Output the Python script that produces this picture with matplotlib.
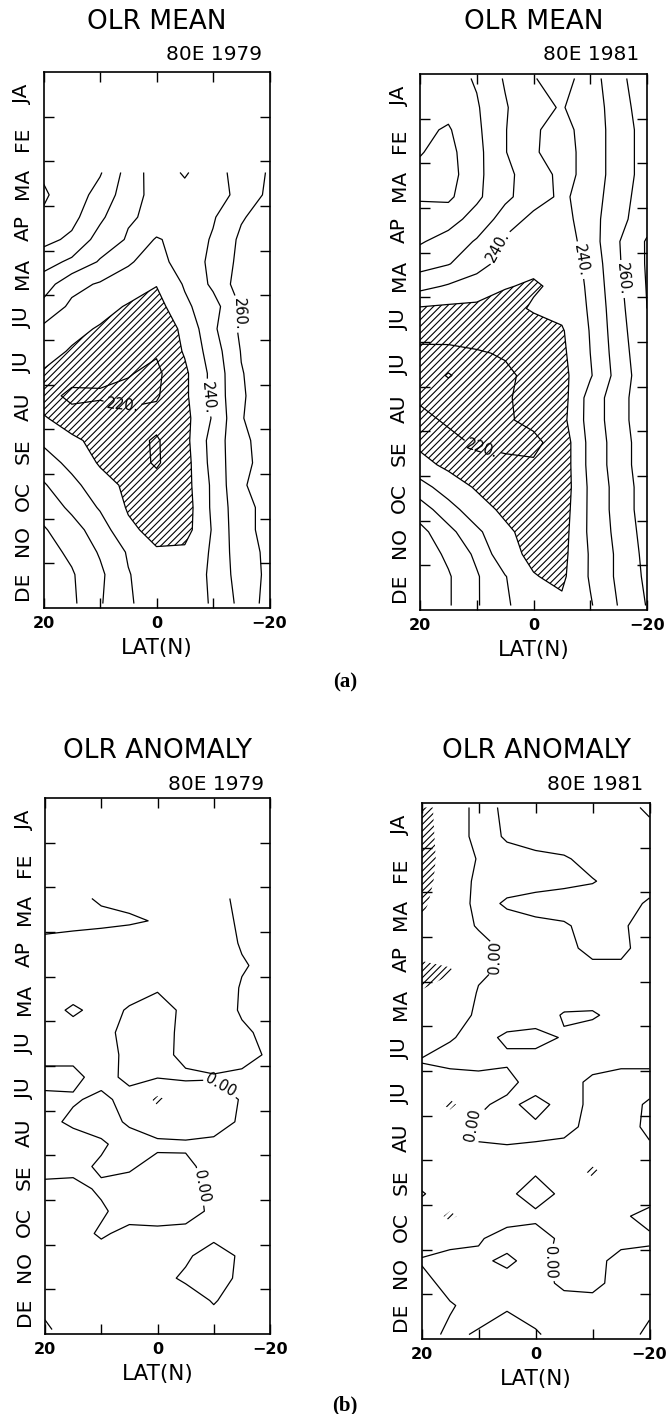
import numpy as np
import matplotlib
matplotlib.use("Agg")
import matplotlib.pyplot as plt

nan = np.nan

# ---------------- data ----------------
lat = [20, 15, 10, 5, 0, -5, -10, -15, -20]
time_mid = [0.1, 0.75, 1.25, 1.75, 2.25, 2.75, 3.25, 3.75, 4.25, 4.75, 5.25, 5.75,
            6.25, 6.75, 7.25, 7.75, 8.25, 8.75, 9.25, 9.75, 10.25, 10.75, 11.25, 11.9]
month_labels = ["JA", "FE", "MA", "AP", "MA", "JU", "JU", "AU", "SE", "OC", "NO", "DE"]
lat_ticks = [20, 10, 0, -10, -20]
lat_tick_labels = ["20", "", "0", "", "\u221220"]

mean_levels = [200, 210, 220, 230, 240, 250, 260, 270, 280, 290, 300]
mean_label_levels = [220, 240, 260]
mean_hatch_below = 230
anom_levels = [0]
anom_label_levels = [0]
anom_hatch_below = -20

mean_1979 = [
    [nan] * 9, [nan] * 9, [nan] * 9, [nan] * 9,
    [279, 279, 271, 256, 245, 239, 246, 254, 261],
    [281, 276, 266, 255, 246, 243, 244, 254, 262],
    [279, 273, 262, 251, 248, 243, 249, 259, 265],
    [273, 268, 256, 249, 239, 244, 251, 262, 268],
    [264, 258, 249, 241, 236, 245, 252, 263, 268],
    [255, 243, 239, 236, 230.5, 241, 252, 265, 268],
    [247, 238, 234, 229, 226, 238, 246, 261, 266],
    [238, 233, 229, 227, 224, 232, 248, 262, 266],
    [234, 229, 227, 224, 221, 231, 245, 260.5, 265],
    [229, 225, 222, 220.5, 218, 228, 243, 259.5, 265],
    [225, 217, 219, 218, 219, 228, 243, 259, 265],
    [231, 225, 224, 222, 223, 227, 241, 259.5, 265],
    [238, 232, 227, 223, 219, 227, 244, 258, 264],
    [245, 237, 229, 224, 219, 226, 243.5, 258, 263],
    [251, 243, 234, 228, 223, 226, 242, 259, 264],
    [256, 248, 239, 229, 225, 225, 242, 257, 263],
    [261, 254, 245, 232, 227, 226, 241, 257, 263],
    [264, 258, 249, 239, 231, 232, 241.5, 256, 262],
    [266, 261, 252, 240.5, 235, 235, 241.5, 255, 262],
    [267, 262, 251, 241, 236, 235, 241, 253, 264],
]

mean_1981 = [
    [266, 264, 259, 249, 240.5, 236, 245, 258, 265],
    [268, 267, 261, 251, 242, 239.5, 244, 256, 265],
    [268, 271, 262, 250.5, 241, 237, 244, 255, 264],
    [269.5, 273, 263, 250.5, 241, 236, 244, 255, 264],
    [272, 274, 263, 251, 248, 236, 244, 255, 264],
    [271, 272, 262, 252, 245, 238, 245, 256, 265],
    [266, 264, 256, 246, 237, 236, 246, 257, 266],
    [261, 256, 249, 238, 235, 234, 245, 259.5, 271],
    [254, 250.5, 244, 236, 232, 233, 243, 259, 271],
    [243, 239, 235, 230.5, 229, 232, 242, 258, 270.5],
    [229, 228, 228, 227, 231, 233, 241, 257, 270],
    [223, 224, 225, 226, 226, 229, 240.5, 256, 269],
    [218, 217.5, 219, 221, 224, 228, 240, 255, 268],
    [218, 209, 217, 218, 223, 227, 239, 254, 267],
    [219, 218, 217, 219, 223, 226, 244, 256, 267],
    [222, 219, 218, 219, 222, 227, 244, 256, 267],
    [228, 222, 219, 218, 218, 224, 243, 255, 266],
    [233, 228, 224, 222, 221, 224, 243, 255, 266],
    [244, 235, 229, 225, 222, 224, 242, 254, 265],
    [255, 244, 234, 228, 224, 225, 242, 254, 265],
    [263, 253, 242, 232, 226, 226, 242, 253, 264],
    [266, 258, 248, 233, 228, 227, 241, 252, 263],
    [268, 261, 251, 240.5, 230.5, 228, 241, 252, 262],
    [268, 261, 251, 241, 236, 232, 239, 250.5, 260.5],
]

anom_1979 = [
    [nan] * 9, [nan] * 9, [nan] * 9, [nan] * 9,
    [8, 4, -2, -4, -5, -6, -4, 3, 6],
    [6, 5, 4, 2, -1, -7, -5, 2, 5],
    [-4, -6, -8, -9, -10, -8, -6, 1, 4],
    [-6, -7, -9, -10, -9, -8, -7, -1, 3],
    [-7, -6, -6, -4, -1, -5, -8, 1, 4],
    [-5, 2, -4, 1, 4, -2, -8, 1.5, 4],
    [-6, -5, -3, 3, 3, -2, -6, -2, 3],
    [-3, -2, -5, 3, 4, -3, -6, -5, 2],
    [3, 2, -3, 2, 1, 2, 1, 3, 4],
    [-2, -1, 2, -3, -24, -10, -7, 1, 3],
    [-3, 2, 3, -1, -9, -9, -6, 2, 3],
    [-6, -5, -1, 3, 3, 2, 3, 4, 3],
    [-4, -2, 1, 2, -5, -3, 5, 4, 3],
    [3, 2, -1, -6, -7, -4, 3, 4, 3],
    [4, 3, 1, -3, -6, -4, 2, 4, 3],
    [4, 3, -1, 2, 3, 3, 2, 4, 3],
    [4, 3, 3, 2, 3, 1, -3, 1, 3],
    [3, 3, 2, 2, 2, -1, -4, 2, 3],
    [2, 3, 2, 3, 3, 3, -0.5, 3, 3],
    [-1, 3, 3, 3, 2, 2, 3, 3, 3],
]

anom_1981 = [
    [-28, -8, 4, -2, -4, -4, -3, -2, 1],
    [-30, -8, 4, -1, -5, -5, -4, -3, -2],
    [-30, -10, 1, 3, 3, 1, -3, -4, -3],
    [-28, -9, 3, 3, 3, 2, 0.5, -3, -3],
    [-24, -7, 3, -1, -3, -4, -4, -3, 1],
    [-18, -6, 1, 3, 2, 1, -3, -1, 3],
    [-12, -8, -4, 2, 3, 2, -2, -1, 2],
    [-26, -22, -2, 2, 3, 2, 2, 1, 2],
    [-19, -12, 1, 2, 3, 3, 2, 2, 2],
    [-10, -6, 2, 3, 3, -0.5, -0.5, 1.5, 2],
    [-6, -0.5, 2, -1, -2, 0.5, 2, 2, 2],
    [0.5, 2, 3, 1, 2, 2, 2, 2, 2],
    [-3, -3, -3, -2, 3, 2, -1, -3, -3],
    [-4, -25, -1, 1.5, -2, 2, -1, -3, 1],
    [-4, -3, 1, 2, 1, 2, -2, -3, 1.5],
    [-4, -4, -0.5, -0.5, -0.5, -2, -3, -3, -1],
    [-3, -4, -3, -2, -0.5, -3, -25, -4, -3],
    [0.5, -3, -3, -1, 2, -1, -4, -4, -3],
    [-3, -25, -3, -2, -1, -2, -3, -1, 2],
    [-3, -2, -0.5, 2, 2, -1, -3, -2, -1],
    [0.5, 2, 1, -1, 2, -2, -2, 2, 2],
    [-2, 2, 2, 2, 2, -1, -1.5, 2, 2],
    [-3, -0.5, 2, 0.5, 2, 2, 2, 2, 1],
    [-2, 1, -0.5, -2, -0.5, 2, 2, 2, -1],
]

# label anchor points (lat, month) for inline contour labels
mean_1979_label_pts = [(6.0, 7.45), (-8.6, 7.3), (-13.6, 5.4)]
mean_1981_label_pts = [(6.5, 3.85), (-7.0, 4.2), (-14.8, 4.6), (9.0, 8.35)]
anom_1979_label_pts = [(-9.5, 6.7), (-4.5, 8.8)]
anom_1981_label_pts = [(7.0, 3.45), (11.0, 7.2), (-2.0, 10.3)]

# ---------------- style ----------------
plt.rcParams["font.family"] = ["DejaVu Sans"]
plt.rcParams["hatch.linewidth"] = 0.8
plt.rcParams["hatch.color"] = "black"
plt.rcParams["axes.linewidth"] = 1.2

W, H = 672, 1414
fig = plt.figure(figsize=(W / 100, H / 100), dpi=100)
fig.patch.set_facecolor("white")


def px_axes(left, top, width, height):
    return fig.add_axes([left / W, 1 - (top + height) / H, width / W, height / H])


def draw_panel(rect, data, levels, label_levels, hatch_below, fmt, label_pts,
               title, subtitle, title_xy, sub_xy):
    ax = px_axes(*rect)
    Z = np.ma.masked_invalid(np.array(data, dtype=float))
    X, Y = np.meshgrid(np.array(lat, float), np.array(time_mid, float))
    ax.contourf(X, Y, Z, levels=[-1e4, hatch_below], colors="none",
                hatches=["/////"])
    other = [v for v in levels if v not in label_levels]
    if other:
        ax.contour(X, Y, Z, levels=other, colors="k", linewidths=0.9)
    cs_lab = ax.contour(X, Y, Z, levels=label_levels, colors="k", linewidths=0.9)
    ax.clabel(cs_lab, manual=label_pts, fmt=fmt, inline=True, fontsize=10.5,
              inline_spacing=3)
    ax.set_xlim(20, -20)
    ax.set_ylim(12, 0)
    ax.set_xticks(lat_ticks)
    ax.set_xticklabels(lat_tick_labels, fontsize=11.5, fontweight="bold")
    ax.set_yticks(range(1, 12))
    ax.set_yticklabels([])
    ax.set_yticks([m + 0.5 for m in range(12)], minor=True)
    ax.set_yticklabels(month_labels, minor=True, rotation=90, va="center",
                       fontsize=14.5)
    ax.tick_params(axis="y", which="major", direction="in", length=7,
                   left=True, right=True, width=1.0)
    ax.tick_params(axis="y", which="minor", length=0, pad=8)
    ax.tick_params(axis="x", which="major", direction="in", length=7,
                   top=True, bottom=True, width=1.0, pad=6)
    ax.text(0.5, -40 / rect[3], "LAT(N)", transform=ax.transAxes,
            ha="center", va="center", fontsize=15.5)
    fig.text(title_xy[0] / W, 1 - title_xy[1] / H, title, ha="center",
             va="center", fontsize=19)
    fig.text(sub_xy[0] / W, 1 - sub_xy[1] / H, subtitle, ha="right",
             va="center", fontsize=14.5)
    return ax


mean_fmt = lambda v: f"{v:.0f}."
anom_fmt = lambda v: "0.00"

draw_panel((43.5, 72, 226, 536), mean_1979, mean_levels, mean_label_levels,
           mean_hatch_below, mean_fmt, mean_1979_label_pts,
           "OLR MEAN", "80E 1979", (156.5, 22), (262, 54))
draw_panel((420, 74, 227, 536), mean_1981, mean_levels, mean_label_levels,
           mean_hatch_below, mean_fmt, mean_1981_label_pts,
           "OLR MEAN", "80E 1981", (533.5, 22), (639, 54))
draw_panel((45, 798, 225, 536), anom_1979, anom_levels, anom_label_levels,
           anom_hatch_below, anom_fmt, anom_1979_label_pts,
           "OLR ANOMALY", "80E 1979", (157.5, 751), (264, 785))
draw_panel((421.5, 803, 228, 536), anom_1981, anom_levels, anom_label_levels,
           anom_hatch_below, anom_fmt, anom_1981_label_pts,
           "OLR ANOMALY", "80E 1981", (537, 751), (643, 785))

fig.text(345 / W, 1 - 682 / H, "(a)", ha="center", va="center",
         fontsize=15, family="Liberation Serif", fontweight="bold")
fig.text(345 / W, 1 - 1405 / H, "(b)", ha="center", va="center",
         fontsize=15, family="Liberation Serif", fontweight="bold")

fig.savefig("out.png", dpi=100, facecolor="white")
